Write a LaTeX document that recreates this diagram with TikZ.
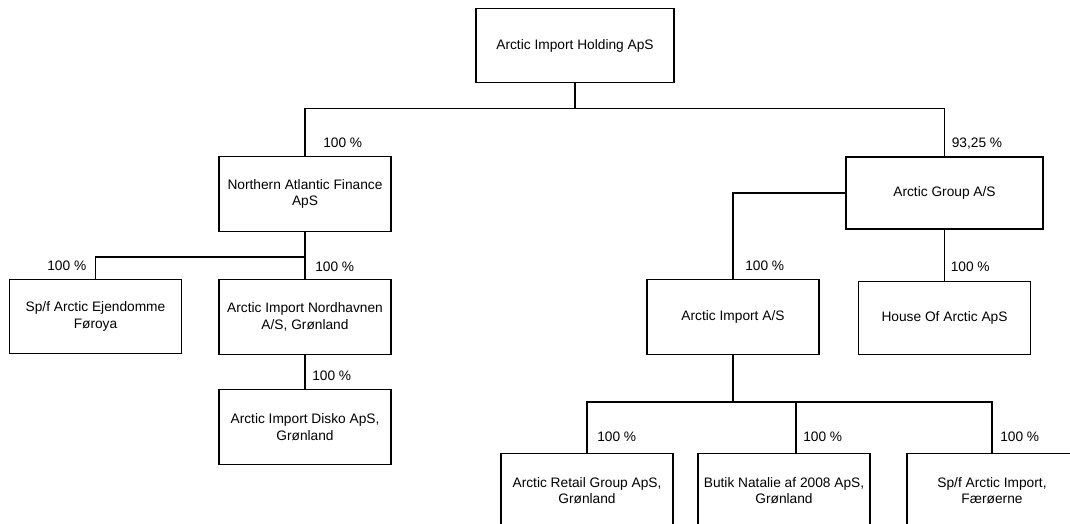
\documentclass[tikz,border=0pt]{standalone}
\usepackage{fontspec}
\setmainfont{Liberation Sans}
\usetikzlibrary{calc}
\tikzset{
	firm/.style={draw, line width=0.9pt, inner sep=0pt, align=center, minimum width=129pt, minimum height=56pt, font=\fontsize{10.3}{12.4}\selectfont},
	pct/.style={inner sep=0pt, anchor=west, font=\fontsize{10.3}{12.4}\selectfont},
	link/.style={line width=0.9pt},
}
\begin{document}
\begin{tikzpicture}[x=0.75pt, y=-0.75pt]
	\useasboundingbox (0,0) rectangle (1070,524);
	\clip (0,0) rectangle (1070,524);
	\node [firm, minimum width=148.5pt] (hold) at (575,45.5) {Arctic Import Holding ApS};
	\node [firm] (naf) at (305,194) {Northern Atlantic Finance\\ApS};
	\node [firm, minimum width=147.75pt, minimum height=54pt] (ag) at (944.5,193) {Arctic Group A/S};
	\node [firm] (ejd) at (95.5,316.5) {Sp/f Arctic Ejendomme\\Føroya};
	\node [firm] (nord) at (305,317) {Arctic Import Nordhavnen\\A/S, Grønland};
	\node [firm] (disko) at (305,427) {Arctic Import Disko ApS,\\Grønland};
	\node [firm] (ai) at (733,317) {Arctic Import A/S};
	\node [firm, minimum height=55pt] (hoa) at (944.5,318) {House Of Arctic ApS};
	\node [firm] (arg) at (587,490.5) {Arctic Retail Group ApS,\\Grønland};
	\node [firm] (butik) at (784,490.5) {Butik Natalie af 2008 ApS,\\Grønland};
	\node [firm, minimum width=127.5pt] (spf) at (992,490.5) {Sp/f Arctic Import,\\Færøerne};

	% first level
	\coordinate (bus1) at ($(hold.south)+(0,25)$);
	\draw [link] (hold.south) -- (bus1);
	\draw [link] (naf.north) |- (bus1 -| ag.north) -- (ag.north);
	\path ($(naf.north)+(18,-13)$) node [pct] {100 \%};
	\path ($(ag.north)+(7,-13)$) node [pct] {93,25 \%};

	% below Northern Atlantic Finance
	\coordinate (bus2) at ($(naf.south)+(0,25)$);
	\draw [link] (ejd.north) |- (bus2);
	\draw [link] (naf.south) -- (nord.north);
	\draw [link] (nord.south) -- (disko.north);
	\path ($(ejd.north)+(-9,-13)$) node [pct, anchor=east] {100 \%};
	\path ($(nord.north)+(10,-12)$) node [pct] {100 \%};
	\path ($(disko.north)+(7,-13)$) node [pct] {100 \%};

	% below Arctic Group
	\draw [link] (ag.west) -| (ai.north);
	\draw [link] (ag.south) -- (hoa.north);
	\path ($(ai.north)+(12,-13)$) node [pct] {100 \%};
	\path ($(hoa.north)+(6,-14)$) node [pct] {100 \%};

	% below Arctic Import
	\coordinate (bus3) at ($(ai.south)+(0,47)$);
	\coordinate (bt) at ($(butik.north)+(12,0)$);
	\draw [link] (ai.south) -- (bus3);
	\draw [link] (arg.north) |- (spf.north |- bus3) -- (spf.north);
	\draw [link] (bt |- bus3) -- (bt);
	\path ($(arg.north)+(10,-16)$) node [pct] {100 \%};
	\path ($(bt)+(7,-16)$) node [pct] {100 \%};
	\path ($(spf.north)+(8,-16)$) node [pct] {100 \%};
\end{tikzpicture}
\end{document}
